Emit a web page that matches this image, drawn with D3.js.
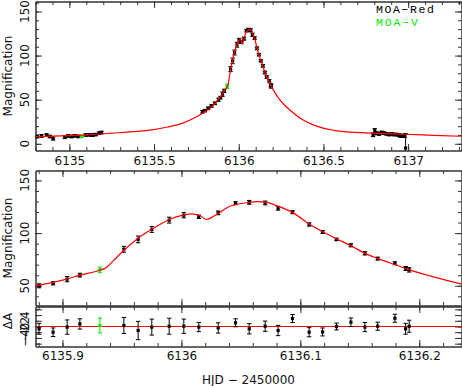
<!DOCTYPE html>
<html><head><meta charset="utf-8">
<script src="https://cdn.jsdelivr.net/npm/d3@7"></script>
<style>body{margin:0;background:#fff}svg{display:block}</style>
</head><body>
<svg id="c" width="462" height="386"></svg>
<script>
// ---- MOA-Red, points only in the wide (top) panel ----
const wideT = [6134.810, 6134.836, 6134.865, 6134.885, 6134.904, 6134.973, 6134.993, 6135.013, 6135.032, 6135.052,
  6135.097, 6135.117, 6135.137, 6135.156, 6135.176, 6135.190,
  6135.786, 6135.800, 6135.819, 6135.839, 6135.859,
  6136.793, 6136.803, 6136.813, 6136.829, 6136.843, 6136.857, 6136.872, 6136.888, 6136.902, 6136.916,
  6136.932, 6136.945, 6136.955, 6136.967, 6136.980, 6136.985];
const wideA = [8.3, 9.0, 9.8, 8.3, 6.0, 7.5, 9.0, 8.3, 9.0, 8.3,
  10.1, 10.1, 9.8, 10.5, 12.0, 12.8,
  36.4, 37.6, 40.2, 42.9, 45.9,
  10.1, 15.0, 12.0, 11.3, 12.8, 12.0, 11.3, 10.5, 11.3, 10.5,
  10.5, 9.8, 9.0, 9.0, 9.0, -4.9];
const wideErr = [1.6, 1.5, 1.6, 1.5, 1.8, 1.6, 1.5, 1.5, 1.4, 1.5,
  1.5, 1.4, 1.5, 1.4, 1.6, 1.5,
  1.5, 1.4, 1.5, 1.4, 1.5,
  2.0, 2.2, 1.8, 1.6, 1.6, 1.5, 1.5, 1.5, 1.5, 1.5,
  1.5, 1.6, 1.6, 1.8, 1.8, 16.5];

// ---- MOA-Red, points in the peak (zoomed) panels ----
const zoomT = [6135.8803, 6135.8921, 6135.9039, 6135.9146, 6135.9516, 6135.9636, 6135.9751, 6135.9897, 6136.0020, 6136.0146,
  6136.0309, 6136.0455, 6136.0570, 6136.0704, 6136.0813, 6136.0934, 6136.1074, 6136.1187, 6136.1304, 6136.1425,
  6136.1543, 6136.1650, 6136.1795, 6136.1885, 6136.1915];
const zoomA = [50.0, 52.3, 56.3, 60.1, 84.6, 94.0, 103.5, 112.3, 117.0, 115.5,
  119.2, 128.3, 129.2, 128.6, 123.6, 119.8, 108.2, 101.0, 94.0, 88.4,
  80.8, 75.8, 71.4, 66.4, 65.1];
const zoomErr = [1.9, 1.5, 2.5, 1.8, 2.8, 3.2, 2.8, 2.8, 2.5, 1.6,
  1.8, 1.4, 1.8, 1.8, 1.8, 1.4, 1.6, 1.4, 1.2, 1.5,
  1.6, 1.4, 1.4, 1.9, 2.1];
const zoomRes = [-0.8, -2.0, -0.2, 0.9, 0.35, -1.4, -0.2, 0.1, 0.1, -0.2,
  -0.5, 1.3, -0.8, 0.1, -1.4, 2.8, -2.0, -1.9, 0.0, 1.5,
  -0.2, 0.1, 2.9, -0.8, 0.1];

// ---- MOA-V ----
const vT = [6135.072, 6135.9314];
const vA = [8.3, 65.1];
const vErr = [1.2, 2.6];
const vRes = [null, 0.35];

// ---- model curve ----
const modelT = [6134.80, 6134.95, 6135.10, 6135.25, 6135.40, 6135.487, 6135.58, 6135.67, 6135.74, 6135.788,
  6135.847, 6135.8775, 6135.892, 6135.9034, 6135.9146, 6135.9314, 6135.937, 6135.9426, 6135.951, 6135.9622,
  6135.9749, 6135.990, 6136.0014, 6136.0085, 6136.0155, 6136.0211, 6136.0295, 6136.0407, 6136.0575, 6136.0632,
  6136.0716, 6136.0813, 6136.094, 6136.108, 6136.1192, 6136.1304, 6136.143, 6136.1543, 6136.1654, 6136.181,
  6136.192, 6136.209, 6136.2358, 6136.27, 6136.302, 6136.38, 6136.44, 6136.498, 6136.56, 6136.636,
  6136.793, 6136.98, 6137.15, 6137.315];
const modelA = [8.2, 9.0, 10.2, 12.0, 14.0, 15.8, 19.0, 23.5, 29.5, 35.0,
  43.0, 50.0, 53.2, 56.3, 60.1, 64.8, 67.4, 73.6, 83.0, 94.0,
  103.5, 112.9, 117.0, 118.3, 116.7, 112.9, 117.6, 125.5, 129.2, 129.9,
  129.2, 125.5, 119.2, 108.2, 101.0, 94.7, 87.7, 80.8, 75.8, 69.5,
  65.1, 59.4, 51.6, 44.0, 38.3, 27.0, 21.5, 17.7, 15.3, 13.5,
  12.0, 10.8, 9.6, 8.5];

// ---- tick labels ----
const topXTicks = [6135, 6135.5, 6136, 6136.5, 6137];
const topYTicks = [0, 50, 100, 150];
const midXTicks = [6135.9, 6136, 6136.1, 6136.2];
const midYTicks = [50, 100, 150];
const resYTicks = [-4, -2, 0, 2, 4];
const legendLabels = ["MOA\u2212Red", "MOA\u2212V"];
const xLabel = "HJD \u2212 2450000";

const RED = "#ff0000", GREEN = "#00ee00", AX = "#333";
const FONT = "DejaVu Sans";
const L = 35.5, R = 461.5;
const svg = d3.select("#c");

const x1 = d3.scaleLinear([6134.80, 6137.315], [L, R]);
const y1 = d3.scaleLinear([-7.6, 161.3], [150.5, 1.5]);
const x2 = d3.scaleLinear([6135.8773, 6136.2355], [L, R]);
const y2 = d3.scaleLinear([31.3, 159.4], [305.5, 170.5]);
const y3 = d3.scaleLinear([-7, 7], [346.5, 306.5]);

function stepTicks(scale, step) {
  const [a, b] = scale.domain();
  return d3.range(Math.ceil(a / step - 1e-9), Math.floor(b / step + 1e-9) + 1).map(i => +(i * step).toFixed(6));
}

let clipId = 0;
function panel(xs, ys, o) {
  const g = svg.append("g");
  const [x0, x1_] = xs.range(), [yb, yt] = ys.range();
  const id = "clip" + (clipId++);
  svg.append("clipPath").attr("id", id).append("rect")
    .attr("x", x0).attr("y", yt).attr("width", x1_ - x0).attr("height", yb - yt);
  const mk = (axisFn, scale, vals, size, tx, ty) => {
    const a = axisFn(scale).tickValues(vals).tickSizeInner(-size).tickSizeOuter(0).tickFormat("");
    const ag = g.append("g").attr("transform", `translate(${tx},${ty})`).call(a);
    ag.selectAll("path,line").attr("stroke", AX);
    return ag;
  };
  const xMinor = stepTicks(xs, o.xMinor), xMajor = stepTicks(xs, o.xMajor);
  const yMinor = stepTicks(ys, o.yMinor), yMajor = stepTicks(ys, o.yMajor);
  for (const [fn, tx, ty] of [[d3.axisBottom, 0, yb], [d3.axisTop, 0, yt]]) {
    mk(fn, xs, xMinor, 3.5, tx, ty); mk(fn, xs, xMajor, 6.5, tx, ty);
  }
  for (const [fn, tx, ty] of [[d3.axisLeft, x0, 0], [d3.axisRight, x1_, 0]]) {
    mk(fn, ys, yMinor, 3.5, tx, ty); mk(fn, ys, yMajor, 6.5, tx, ty);
  }
  if (o.xLabels) {
    const a = d3.axisBottom(xs).tickValues(o.xLabels).tickSize(0).tickPadding(o.xPad).tickFormat(d3.format(""));
    const ag = g.append("g").attr("transform", `translate(0,${yb})`).call(a);
    ag.select(".domain").remove();
    ag.selectAll("text").attr("font-family", FONT).attr("font-size", 12).attr("fill", "#111");
  }
  if (o.yLabels) {
    g.append("g").selectAll("text").data(o.yLabels).join("text")
      .attr("transform", d => `translate(${o.yLabX},${ys(d)}) rotate(-90)`)
      .attr("text-anchor", "middle").attr("font-family", FONT).attr("font-size", 12).attr("fill", "#111")
      .text(d => d3.format("")(d).replace("-", "\u2212"));
  }
  if (o.title) {
    g.append("text").attr("transform", `translate(${o.titleX},${o.titleY}) rotate(-90)`)
      .attr("text-anchor", "middle").attr("font-family", FONT).attr("font-size", 12).attr("fill", "#111").text(o.title);
  }
  const plot = svg.append("g").attr("clip-path", `url(#${id})`);
  return plot;
}

function points(g, xs, ys, T, V, E, color) {
  const pts = T.map((t, i) => ({ t, v: V[i], e: E[i] })).filter(d => d.v !== null);
  const gg = g.append("g").attr("stroke", color).attr("fill", color);
  gg.selectAll("line.eb").data(pts).join("line").attr("class", "eb")
    .attr("x1", d => xs(d.t)).attr("x2", d => xs(d.t))
    .attr("y1", d => ys(d.v - d.e)).attr("y2", d => ys(d.v + d.e)).attr("stroke-width", 1);
  for (const s of [-1, 1]) {
    gg.selectAll("line.cap" + (s > 0 ? "a" : "b")).data(pts).join("line").attr("class", "cap" + (s > 0 ? "a" : "b"))
      .attr("x1", d => xs(d.t) - 2.2).attr("x2", d => xs(d.t) + 2.2)
      .attr("y1", d => ys(d.v + s * d.e)).attr("y2", d => ys(d.v + s * d.e)).attr("stroke-width", 1);
  }
  gg.selectAll("rect").data(pts).join("rect")
    .attr("x", d => xs(d.t) - 1.6).attr("y", d => ys(d.v) - 1.6).attr("width", 3.2).attr("height", 3.2).attr("stroke", "none");
}

function model(g, xs, ys, T, A) {
  const line = d3.line().x(d => xs(d[0])).y(d => ys(d[1])).curve(d3.curveMonotoneX);
  g.append("path").datum(T.map((t, i) => [t, A[i]])).attr("d", line)
    .attr("fill", "none").attr("stroke", RED).attr("stroke-width", 1.2);
}

// ---- top panel ----
const p1 = panel(x1, y1, { xMinor: 0.1, xMajor: 0.5, yMinor: 10, yMajor: 50,
  xLabels: topXTicks, xPad: 6, yLabels: topYTicks, yLabX: 28.5,
  title: "Magnification", titleX: 12, titleY: 76 });
points(p1, x1, y1, wideT, wideA, wideErr, "#000");
points(p1, x1, y1, zoomT, zoomA, zoomErr, "#000");
points(p1, x1, y1, vT, vA, vErr, GREEN);
model(p1, x1, y1, modelT, modelA);

// legend
svg.append("g").selectAll("text").data(legendLabels).join("text")
  .attr("x", 376).attr("y", (d, i) => 13 + i * 12.5)
  .attr("font-family", "Liberation Mono").attr("font-size", 11.5)
  .attr("textLength", (d, i) => i === 0 ? 58 : 42).attr("lengthAdjust", "spacing")
  .attr("fill", (d, i) => i === 0 ? "#000" : GREEN).text(d => d);

// ---- middle panel ----
const p2 = panel(x2, y2, { xMinor: 0.02, xMajor: 0.1, yMinor: 10, yMajor: 50,
  yLabels: midYTicks, yLabX: 28.5, title: "Magnification", titleX: 12, titleY: 238 });
points(p2, x2, y2, zoomT, zoomA, zoomErr, "#000");
points(p2, x2, y2, vT, vA, vErr, GREEN);
model(p2, x2, y2, modelT, modelA);

// ---- residual panel ----
const p3 = panel(x2, y3, { xMinor: 0.02, xMajor: 0.1, yMinor: 2, yMajor: 2,
  xLabels: midXTicks, xPad: 5, yLabels: resYTicks, yLabX: 28.5, title: "\u0394A", titleX: 12, titleY: 321 });
p3.append("line").attr("x1", L).attr("x2", R).attr("y1", y3(0)).attr("y2", y3(0))
  .attr("stroke", RED).attr("stroke-width", 1.2);
points(p3, x2, y3, zoomT, zoomRes, zoomErr, "#000");
points(p3, x2, y3, vT, vRes, vErr, GREEN);

svg.append("text").attr("x", (L + R) / 2).attr("y", 384).attr("text-anchor", "middle")
  .attr("font-family", FONT).attr("font-size", 12).attr("fill", "#111").text(xLabel);
</script>
</body></html>
